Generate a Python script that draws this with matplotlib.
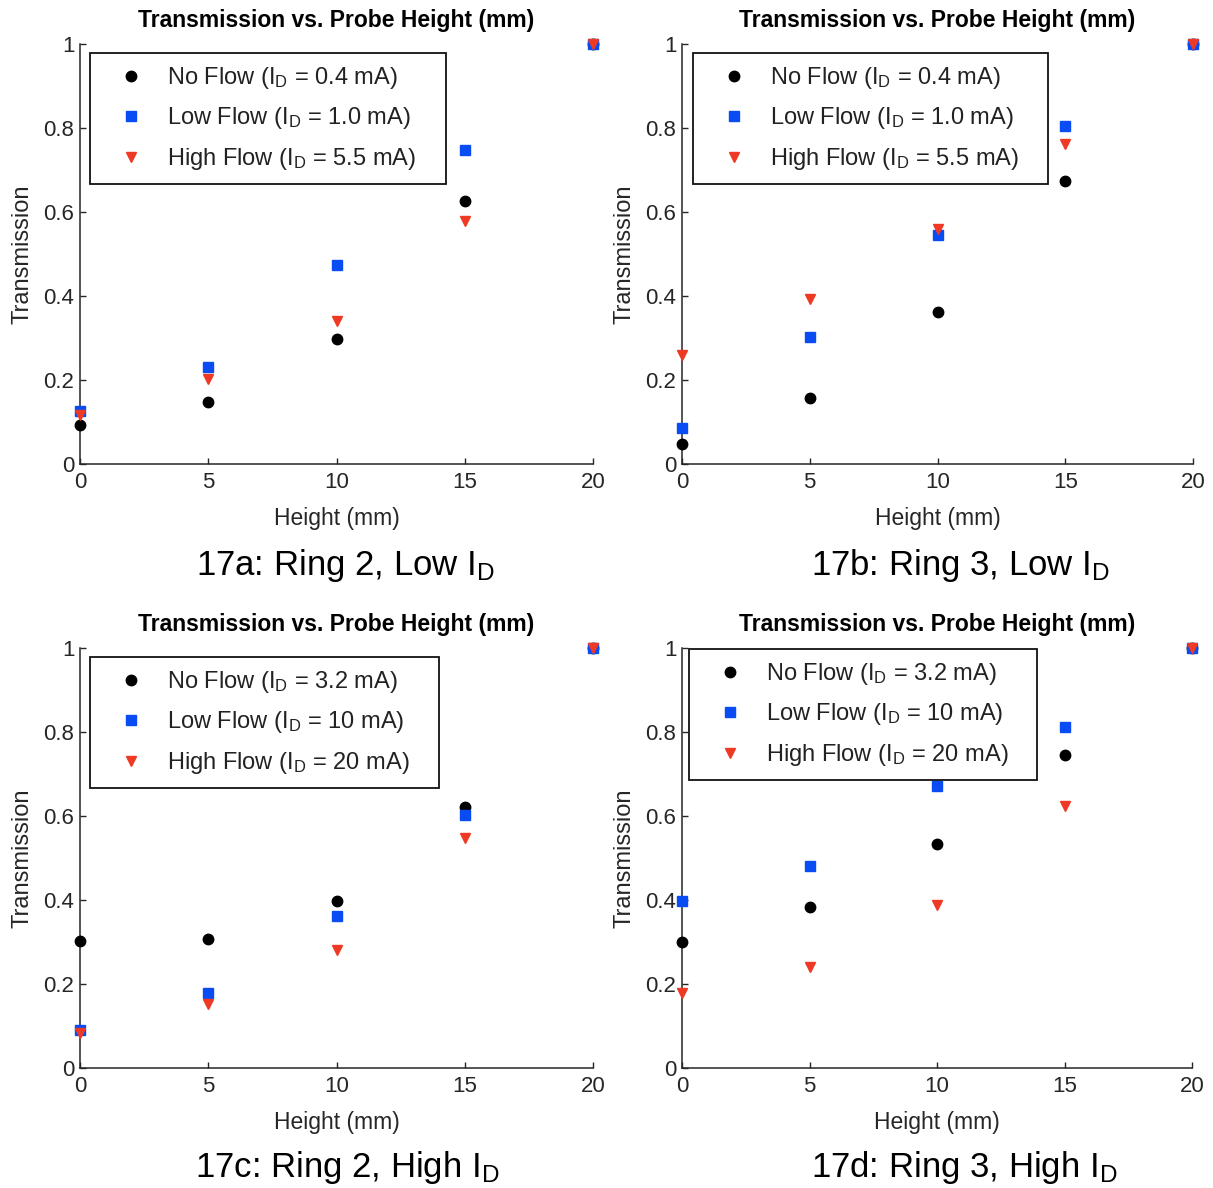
import matplotlib
matplotlib.use("Agg")
import matplotlib.pyplot as plt

plt.rcParams['font.family'] = ['Liberation Sans', 'DejaVu Sans']
plt.rcParams['mathtext.fontset'] = 'custom'
plt.rcParams['mathtext.rm'] = 'Liberation Sans'
plt.rcParams['mathtext.it'] = 'Liberation Sans:italic'
plt.rcParams['mathtext.bf'] = 'Liberation Sans:bold'

# Probe heights (mm)
heights = [0, 5, 10, 15, 20]

# 17a: Ring 2, low discharge current
a_no = [0.093, 0.147, 0.297, 0.626, 1.0]
a_low = [0.127, 0.232, 0.473, 0.747, 1.0]
a_high = [0.116, 0.202, 0.340, 0.578, 1.0]

# 17b: Ring 3, low discharge current
b_no = [0.048, 0.158, 0.362, 0.673, 1.0]
b_low = [0.085, 0.303, 0.546, 0.805, 1.0]
b_high = [0.260, 0.394, 0.560, 0.763, 1.0]

# 17c: Ring 2, high discharge current
c_no = [0.302, 0.306, 0.398, 0.622, 1.0]
c_low = [0.091, 0.178, 0.362, 0.603, 1.0]
c_high = [0.083, 0.152, 0.280, 0.548, 1.0]

# 17d: Ring 3, high discharge current
d_no = [0.299, 0.383, 0.533, 0.745, 1.0]
d_low = [0.398, 0.482, 0.672, 0.811, 1.0]
d_high = [0.179, 0.240, 0.387, 0.624, 1.0]

low_currents = ["0.4", "1.0", "5.5"]
high_currents = ["3.2", "10", "20"]

captions = ["17a: Ring 2, Low I$_\\mathrm{D}$",
            "17b: Ring 3, Low I$_\\mathrm{D}$",
            "17c: Ring 2, High I$_\\mathrm{D}$",
            "17d: Ring 3, High I$_\\mathrm{D}$"]

W, H = 1213, 1188
fig = plt.figure(figsize=(W / 100, H / 100), dpi=100)

BLACK = "#000000"
BLUE = "#0a4cf4"
RED = "#ee3a24"
AXC = "#262626"

panels = [
    dict(data=(a_no, a_low, a_high), cur=low_currents, ax=(80, 593, 44, 464),
         leg=(90, 53), cap=(345, 565)),
    dict(data=(b_no, b_low, b_high), cur=low_currents, ax=(682, 1193, 44, 464),
         leg=(693, 53), cap=(960, 565)),
    dict(data=(c_no, c_low, c_high), cur=high_currents, ax=(80, 593, 648, 1068),
         leg=(90, 657), cap=(347, 1167)),
    dict(data=(d_no, d_low, d_high), cur=high_currents, ax=(682, 1192, 648, 1068),
         leg=(689, 649), cap=(964, 1167)),
]
leg_w = [356, 355, 349, 348]

for i, p in enumerate(panels):
    x0, x1, y0, y1 = p["ax"]
    ax = fig.add_axes([x0 / W, 1 - y1 / H, (x1 - x0) / W, (y1 - y0) / H])
    no, low, high = p["data"]
    cn, cl, ch = p["cur"]
    ax.plot(heights, no, linestyle="none", marker="o", ms=7.5, color=BLACK,
            clip_on=False, zorder=3,
            label="No Flow (I$_\\mathrm{D}$ = %s mA)" % cn)
    ax.plot(heights, low, linestyle="none", marker="s", ms=6.8, color=BLUE,
            clip_on=False, zorder=4,
            label="Low Flow (I$_\\mathrm{D}$ = %s mA)" % cl)
    ax.plot(heights, high, linestyle="none", marker="v", ms=6.5, color=RED,
            clip_on=False, zorder=5,
            label="High Flow (I$_\\mathrm{D}$ = %s mA)" % ch)

    ax.set_xlim(0, 20)
    ax.set_ylim(0, 1)
    ax.set_xticks([0, 5, 10, 15, 20])
    ax.set_xticklabels(["0", "5", "10", "15", "20"])
    ax.set_yticks([0, 0.2, 0.4, 0.6, 0.8, 1])
    ax.set_yticklabels(["0", "0.2", "0.4", "0.6", "0.8", "1"])
    for s in ("top", "right"):
        ax.spines[s].set_visible(False)
    for s in ("left", "bottom"):
        ax.spines[s].set_color(AXC)
        ax.spines[s].set_linewidth(1.1)
    ax.tick_params(direction="in", length=4, width=1.0, color=AXC,
                   labelsize=16, labelcolor=AXC)
    ax.tick_params(axis="x", pad=6)
    ax.tick_params(axis="y", pad=4)

    ax.set_title("Transmission vs. Probe Height (mm)", fontsize=16.5,
                 fontweight="bold", pad=12)
    ax.set_xlabel("Height (mm)", fontsize=16.5, color=AXC, labelpad=10)
    ax.set_ylabel("Transmission", fontsize=17, color=AXC, labelpad=7)

    lx, ly = p["leg"]
    leg = ax.legend(loc="upper left",
                    bbox_to_anchor=(lx / W, 1 - ly / H, leg_w[i] / W, 0.0),
                    bbox_transform=fig.transFigure, mode="expand",
                    fontsize=17, frameon=True, fancybox=False,
                    edgecolor="#111111", framealpha=1.0,
                    borderpad=0.5, labelspacing=0.62, handlelength=2.5,
                    handletextpad=0.25, borderaxespad=0.0)
    leg.get_frame().set_linewidth(1.3)
    for t in leg.get_texts():
        t.set_color("#222222")

    cx, cy = p["cap"]
    fig.text(cx / W, 1 - cy / H, captions[i], fontsize=25,
             ha="center", va="center")

fig.savefig("out.png", dpi=100, facecolor="white")
